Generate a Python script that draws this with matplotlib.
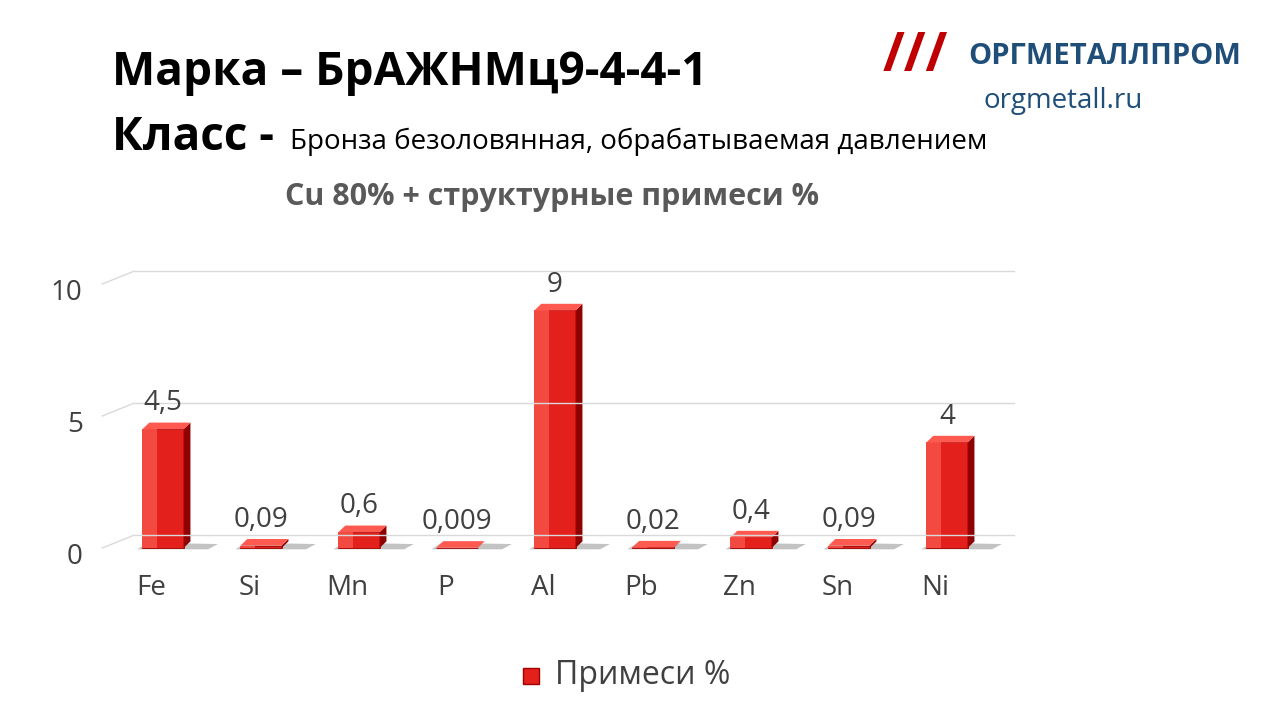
import matplotlib
matplotlib.use("Agg")
import matplotlib.pyplot as plt
from matplotlib.patches import Polygon, Rectangle

plt.rcParams['font.family'] = ['Open Sans', 'DejaVu Sans']

elements = ["Fe", "Si", "Mn", "P", "Al", "Pb", "Zn", "Sn", "Ni"]
values = [4.5, 0.09, 0.6, 0.009, 9, 0.02, 0.4, 0.09, 4]
labels = ["4,5", "0,09", "0,6", "0,009", "9", "0,02", "0,4", "0,09", "4"]
yticks = [0, 5, 10]

fig = plt.figure(figsize=(12.8, 7.2), dpi=100)
ax = fig.add_axes([114/1280, 1-548/720, 882/1280, 264/720])
ax.set_xlim(-0.5, 8.5)
ax.set_ylim(0, 10)
ax.axis("off")

dx, dy = 0.2, 0.6
for g in yticks:
    ax.plot([-0.5 + dx, 8.5 + dx*0.9], [g + dy*0.8, g + dy*0.8], color="#d9d9d9", lw=1, clip_on=False)
    ax.plot([-0.62, -0.5 + dx], [g, g + dy*0.8], color="#d9d9d9", lw=1, clip_on=False)
    ax.text(-0.82, g - 0.35, str(g), fontsize=20, color="#404040", ha="right", va="center")

w = 0.42
dd, dh = 0.07, 0.25
for i, (v, lab) in enumerate(zip(values, labels)):
    x0 = i - w/2
    ax.add_patch(Polygon([[x0 - 0.05, -0.05], [x0 + w + 0.25, -0.05], [x0 + w + 0.35, 0.15], [x0 + 0.05, 0.2]],
                         closed=True, color="#555555", alpha=0.35, lw=0, clip_on=False))
    ax.add_patch(Rectangle((x0, 0), w, v, facecolor="#e3201b", edgecolor="#a00000", lw=0.6, clip_on=False))
    ax.add_patch(Rectangle((x0, 0), w*0.35, v, facecolor="#f24a40", lw=0, clip_on=False))
    ax.add_patch(Polygon([[x0 + w, 0], [x0 + w + dd, dh], [x0 + w + dd, v + dh], [x0 + w, v]],
                         closed=True, facecolor="#8f0000", lw=0, clip_on=False))
    ax.add_patch(Polygon([[x0, v], [x0 + w, v], [x0 + w + dd, v + dh], [x0 + dd, v + dh]],
                         closed=True, facecolor="#ff5a50", lw=0, clip_on=False))
    ax.text(i, v + 0.45, lab, fontsize=20, color="#404040", ha="center", va="bottom")
    ax.text(i - 0.12, -1.0, elements[i], fontsize=20, color="#404040", ha="center", va="top")

fig.text(112/1280, 1-72/720, "Марка – БрАЖНМц9-4-4-1", fontsize=33, fontweight="bold", va="center")
fig.text(112/1280, 1-138/720, "Класс -", fontsize=33, fontweight="bold", va="center")
fig.text(290/1280, 1-142/720, "Бронза безоловянная, обрабатываемая давлением", fontsize=20, va="center")
fig.text(552/1280, 1-197/720, "Cu 80% + структурные примеси %", fontsize=22, fontweight="bold",
         color="#595959", ha="center", va="center")
fig.text(968/1280, 1-57/720, "ОРГМЕТАЛЛПРОМ", fontsize=21, fontweight="bold", color="#1f4e79", va="center")
fig.text(1063/1280, 1-101/720, "orgmetall.ru", fontsize=20, color="#1f4e79", ha="center", va="center")
fig.text(915/1280, 1-57/720, "///", fontsize=38, fontweight="bold", color="#c00000", ha="center", va="center")

fig.patches.append(Rectangle((523/1280, 1-684/720), 16/1280, 16/720, transform=fig.transFigure,
                             facecolor="#e3201b", edgecolor="#a00000"))
fig.text(555/1280, 1-675/720, "Примеси %", fontsize=23, color="#404040", va="center")

fig.savefig("out.png", dpi=100)
